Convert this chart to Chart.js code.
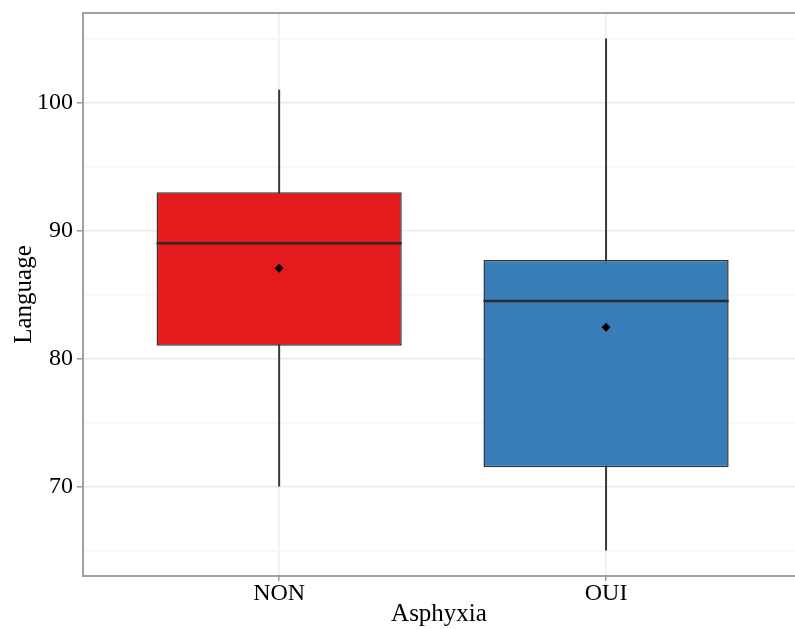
<!DOCTYPE html>
<html>
<head>
<meta charset="utf-8">
<script src="https://cdn.jsdelivr.net/npm/chart.js@4/dist/chart.umd.min.js"></script>
<style>
  html, body { margin: 0; padding: 0; background: #fff; }
  #wrap { width: 795px; height: 629px; position: relative; }
</style>
</head>
<body>
<div id="wrap"><canvas id="boxChart"></canvas></div>
<script>
// box plot data
var categories = ['NON', 'OUI'];
var positions = [1, 2];
var whiskerLow = [70, 65];
var q1 = [81, 71.5];
var median = [89, 84.5];
var q3 = [93, 87.7];
var whiskerHigh = [101, 105];
var means = [87.05, 82.45];
var boxColors = ['#E41A1C', '#377EB8'];
var yTicks = [65, 70, 75, 80, 85, 90, 95, 100, 105];

var serif = "'Liberation Serif', 'DejaVu Serif', serif";

// whiskers behind boxes, medians + panel frame on top
var boxParts = {
  id: 'boxParts',
  beforeDatasetsDraw: function (chart) {
    var ctx = chart.ctx, x = chart.scales.x, y = chart.scales.y;
    ctx.save();
    ctx.strokeStyle = '#3a3a3a';
    ctx.lineWidth = 2;
    for (var i = 0; i < positions.length; i++) {
      var px = x.getPixelForValue(positions[i]);
      ctx.beginPath();
      ctx.moveTo(px, y.getPixelForValue(whiskerLow[i]));
      ctx.lineTo(px, y.getPixelForValue(whiskerHigh[i]));
      ctx.stroke();
    }
    ctx.restore();
  },
  afterDatasetsDraw: function (chart) {
    var ctx = chart.ctx, y = chart.scales.y, area = chart.chartArea;
    var bars = chart.getDatasetMeta(0).data;
    ctx.save();
    ctx.strokeStyle = '#2a2a2a';
    ctx.lineWidth = 2.5;
    for (var i = 0; i < bars.length; i++) {
      var half = bars[i].width / 2;
      var py = y.getPixelForValue(median[i]);
      ctx.beginPath();
      ctx.moveTo(bars[i].x - half, py);
      ctx.lineTo(bars[i].x + half, py);
      ctx.stroke();
    }
    // top border of the panel
    ctx.strokeStyle = '#a0a0a0';
    ctx.lineWidth = 2;
    ctx.beginPath();
    ctx.moveTo(area.left, area.top);
    ctx.lineTo(area.right, area.top);
    ctx.stroke();
    ctx.restore();
  }
};

var ctx = document.getElementById('boxChart').getContext('2d');
new Chart(ctx, {
  data: {
    datasets: [{
      type: 'bar',
      label: 'Language',
      data: positions.map(function (p, i) { return { x: p, y: [q1[i], q3[i]] }; }),
      backgroundColor: boxColors,
      borderColor: '#333333',
      borderWidth: 1.5,
      borderSkipped: false,
      categoryPercentage: 1,
      barPercentage: 0.75,
      order: 2
    }, {
      type: 'scatter',
      label: 'Mean',
      data: positions.map(function (p, i) { return { x: p, y: means[i] }; }),
      pointStyle: 'rectRot',
      radius: 4.5,
      backgroundColor: '#000',
      borderColor: '#000',
      borderWidth: 0,
      order: 1
    }]
  },
  options: {
    responsive: true,
    maintainAspectRatio: false,
    animation: false,
    layout: { autoPadding: false, padding: { top: 13, right: 0, left: 0, bottom: 0 } },
    plugins: {
      legend: { display: false },
      tooltip: { enabled: false }
    },
    scales: {
      x: {
        type: 'linear',
        min: 0.4,
        max: 2.578,
        offset: false,
        afterBuildTicks: function (axis) {
          axis.ticks = positions.map(function (v) { return { value: v }; });
        },
        afterFit: function (axis) {
          axis.height = 53;
          axis.paddingRight = 0;
          axis.paddingLeft = 0;
        },
        ticks: {
          color: '#000',
          padding: 1,
          maxRotation: 0,
          font: { family: serif, size: 24, lineHeight: 1 },
          callback: function (v) {
            var i = positions.indexOf(v);
            return i >= 0 ? categories[i] : '';
          }
        },
        grid: {
          offset: false,
          color: '#ececec',
          lineWidth: 1.5,
          tickColor: '#999999',
          tickLength: 5
        },
        border: { display: true, color: '#a0a0a0', width: 2 },
        title: {
          display: true,
          text: 'Asphyxia',
          color: '#000',
          font: { family: serif, size: 25 },
          padding: { top: 0, bottom: 0 }
        }
      },
      y: {
        min: 63,
        max: 107,
        afterBuildTicks: function (axis) {
          axis.ticks = yTicks.map(function (v) { return { value: v }; });
        },
        afterFit: function (axis) {
          axis.width = 83;
          axis.paddingTop = 0;
          axis.paddingBottom = 0;
        },
        ticks: {
          color: '#000',
          padding: 4,
          font: { family: serif, size: 24 },
          callback: function (v) { return v % 10 === 0 ? v : ''; }
        },
        grid: {
          color: function (c) { return c.tick && c.tick.value % 10 === 0 ? '#ebebeb' : '#f5f5f5'; },
          lineWidth: 1.5,
          tickColor: function (c) { return c.tick && c.tick.value % 10 === 0 ? '#999999' : 'rgba(0,0,0,0)'; },
          tickLength: 6
        },
        border: { display: true, color: '#a0a0a0', width: 2 },
        title: {
          display: true,
          text: 'Language',
          color: '#000',
          font: { family: serif, size: 25 },
          padding: { top: 9, bottom: 0 }
        }
      }
    }
  },
  plugins: [boxParts]
});
</script>
</body>
</html>
